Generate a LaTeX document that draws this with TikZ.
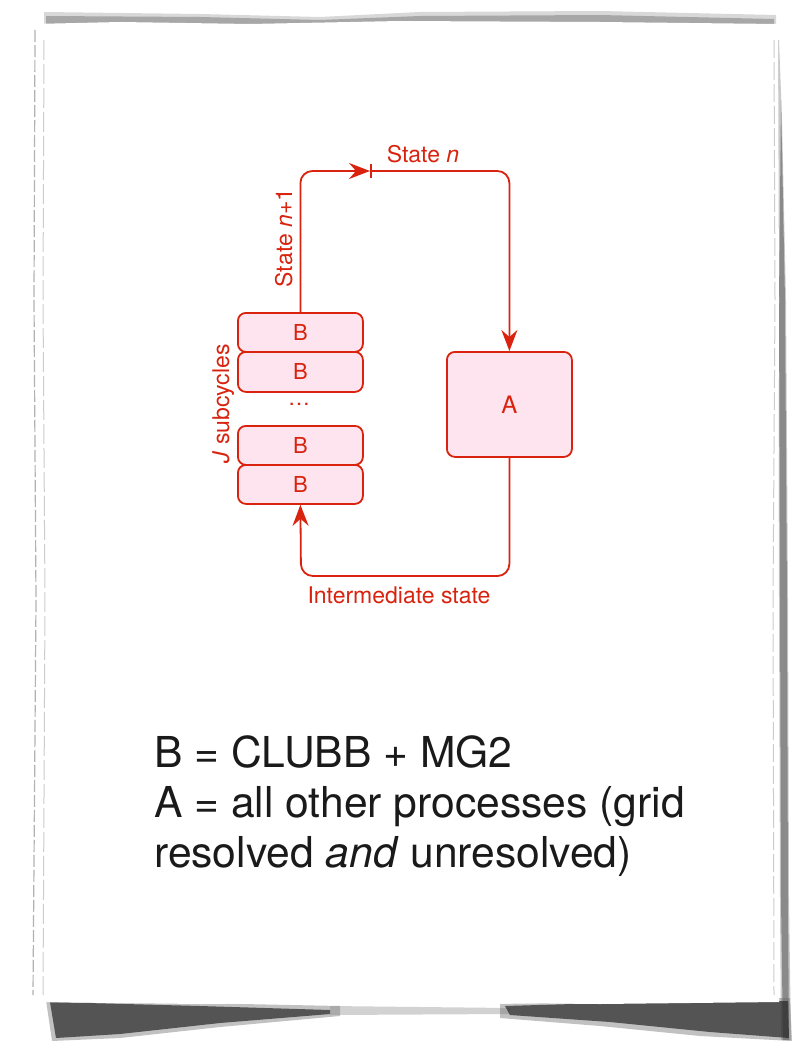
\documentclass[tikz,border=0pt]{standalone}
\usepackage{fontspec}
\setmainfont{TeX Gyre Heros}
\usetikzlibrary{arrows.meta}
\definecolor{dred}{RGB}{217,35,15}
\definecolor{dpink}{RGB}{253,228,238}
\definecolor{dtext}{RGB}{26,26,26}
\begin{document}
\begin{tikzpicture}[x=1pt,y=-1pt,
  bbox/.style={draw=dred,fill=dpink,line width=1.8pt,rounded corners=8pt,minimum width=125pt,inner sep=0pt},
  conn/.style={draw=dred,line width=1.8pt,rounded corners=12pt},
  tip/.style={-{Stealth[length=21pt,width=16pt,inset=7pt]}},
  lbl/.style={text=dred,font=\fontsize{23}{27}\selectfont,inner sep=0pt},
  blbl/.style={font=\fontsize{22}{25}\selectfont,text=dred},
  big/.style={text=dtext,font=\fontsize{42.6}{50}\selectfont,inner sep=0pt,anchor=base west}]
\useasboundingbox (0,0) rectangle (805,1041);
\fill[white] (0,0) rectangle (805,1041);
% --- paper shadows ---
\fill[black!60,opacity=0.25] (44,12) -- (200,14) -- (320,17) -- (420,12) -- (600,11) -- (776,15) -- (776,27) -- (44,27) -- cycle;
\fill[black!70,opacity=0.35] (46,16) -- (200,17) -- (320,20) -- (420,16) -- (600,15) -- (774,19) -- (774,25) -- (46,25) -- cycle;
\fill[black!60,opacity=0.35] (779,40) -- (782,120) -- (786,300) -- (788,600) -- (789,900) -- (791,1040) -- (781,1040) -- (780,900) -- (779,600) -- (778,300) -- (777,40) -- cycle;
\fill[black!70,opacity=0.5] (781,100) -- (785,300) -- (787,600) -- (788,900) -- (789,1040) -- (783,1040) -- (781,900) -- (780,600) -- (779,300) -- cycle;
% bottom shadow, left part
\fill[black!60,opacity=0.4] (46,1000) -- (340,1006) -- (340,1016) -- (220,1027) -- (120,1038) -- (52,1041) -- cycle;
\fill[black!85,opacity=0.7] (50,1002) -- (200,1006) -- (330,1010) -- (330,1014) -- (220,1023) -- (120,1034) -- (56,1038) -- cycle;
% middle thin part
\fill[black!50,opacity=0.35] (330,1006) -- (510,1008) -- (510,1014) -- (330,1015) -- cycle;
% right part
\fill[black!60,opacity=0.4] (500,1004) -- (790,998) -- (792,1041) -- (700,1036) -- (600,1026) -- (500,1018) -- cycle;
\fill[black!85,opacity=0.7] (505,1006) -- (640,1002) -- (788,1001) -- (789,1038) -- (710,1032) -- (610,1022) -- (510,1015) -- cycle;
% --- paper ---
\fill[white] (33,24) -- (120,22) -- (250,24) -- (400,21) -- (600,22) -- (778,24) -- (779,300) -- (778,600) -- (779,1002) -- (600,1004) -- (400,1002) -- (200,1004) -- (30,1002) -- (31,700) -- (33,300) -- cycle;
\draw[black!30,line width=1.2pt,dash pattern=on 12pt off 3pt] (35,30) -- (34,300) -- (36,600) -- (33,995);
\draw[black!20,line width=1pt,dash pattern=on 20pt off 4pt] (44,40) -- (43,300) -- (45,600) -- (43,995);
\draw[black!20,line width=1pt,dash pattern=on 18pt off 4pt] (774,40) -- (775,300) -- (773,600) -- (774,995);
% --- diagram ---
\node[bbox,minimum height=39pt,anchor=north west] (B1) at (237,312) {};
\node[bbox,minimum height=40pt,anchor=north west] (B2) at (237,351) {};
\node[bbox,minimum height=39pt,anchor=north west] (B3) at (237,425) {};
\node[bbox,minimum height=39pt,anchor=north west] (B4) at (237,464) {};
\node[blbl] at (B1.center) {B};
\node[blbl] at (B2.center) {B};
\node[blbl] at (B3.center) {B};
\node[blbl] at (B4.center) {B};
\node[blbl] (dots) at (299,404) {\ldots};
\node[bbox,minimum width=125pt,minimum height=105pt,anchor=north west] (A) at (446,351) {};
\node[blbl,font=\fontsize{24}{28}\selectfont] at (A.center) {A};
\coordinate (tick) at (370,171);
\coordinate (bc) at (301,576);
\draw[conn,tip] (B1.north) |- (tick);
\draw[conn,{Bar[width=14pt]}-{Stealth[length=21pt,width=16pt,inset=7pt]}] (tick) -| (A.north);
\draw[conn,tip] (A.south) |- (bc) -- (B4.south);
\node[lbl,anchor=base] (sn) at (423,162) {State \textit{n}};
\node[lbl,anchor=base,rotate=90] (sn1) at (292,238) {State \textit{n}+1};
\node[lbl,anchor=base,rotate=90] (js) at (229,404) {\textit{J} subcycles};
\node[lbl,anchor=base] (is) at (399,603) {Intermediate state};
% --- caption ---
\node[big] (t1) at (154,767) {B = CLUBB + MG2};
\node[big] (t2) at (154,817) {A = all other processes (grid};
\node[big] (t3) at (154,867) {resolved \textit{and} unresolved)};
\end{tikzpicture}
\end{document}
